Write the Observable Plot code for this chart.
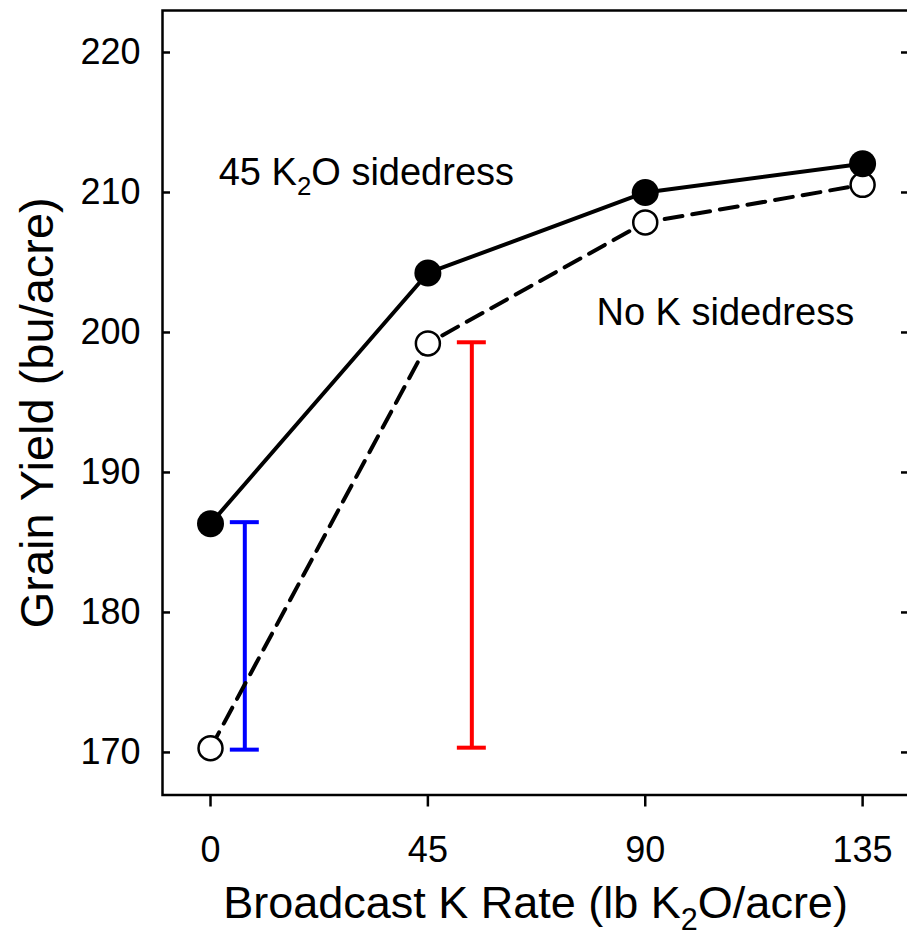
<!DOCTYPE html>
<html><head><meta charset="utf-8">
<script src="https://cdn.jsdelivr.net/npm/d3@7"></script>
<script src="https://cdn.jsdelivr.net/npm/@observablehq/plot@0.6"></script>
<style>html,body{margin:0;padding:0;background:#fff;} svg{display:block}</style>
</head><body><div id="chart"></div>
<script>
// ---- data ----
const rates = [0, 45, 90, 135];
const yieldSidedress = [186.34, 204.25, 210.0, 212.05];
const yieldNoSidedress = [170.3, 199.22, 207.86, 210.55];
const errX = [7.1, 54.1];
const errLow = [170.2, 170.34];
const errHigh = [186.45, 199.3];
const errColors = ["#0000ff", "#ff0000"];
const yTicks = [170, 180, 190, 200, 210, 220];
const xTicks = [0, 45, 90, 135];
const annotText = ["45 K2O sidedress", "No K sidedress"];
const annotX = [1.7, 79.9];
const annotY = [211.4, 201.4];
const xTitle = "Broadcast K Rate (lb K2O/acre)";
const yTitle = "Grain Yield (bu/acre)";

const solid = rates.map((r, i) => ({x: r, y: yieldSidedress[i]}));
const dashed = rates.map((r, i) => ({x: r, y: yieldNoSidedress[i]}));
const bars = errX.map((x, i) => ({x, lo: errLow[i], hi: errHigh[i], c: errColors[i]}));
const caps = bars.flatMap(b => [{x: b.x, y: b.lo, c: b.c}, {x: b.x, y: b.hi, c: b.c}]);
const capHalf = 3;
const annots = annotText.map((t, i) => ({t, x: annotX[i], y: annotY[i]}));

const font = "'Liberation Sans', Arial, Helvetica, sans-serif";

const chart = Plot.plot({
  width: 907, height: 931,
  marginLeft: 162, marginRight: -1, marginTop: 10, marginBottom: 136.5,
  x: {domain: [-9.94, 144.5]},
  y: {domain: [166.96, 223.0]},
  style: {fontFamily: font, background: "white", color: "black"},
  marks: [
    Plot.frame({stroke: "black", strokeWidth: 2.5}),
    Plot.axisY({anchor: "left", ticks: yTicks, tickSize: -8, tickPadding: 30, tickFormat: d => String(d), fontSize: 36, strokeWidth: 2.5, label: null}),
    Plot.axisY({anchor: "right", ticks: yTicks, tickSize: -8, tickFormat: () => "", strokeWidth: 2.5, label: null}),
    Plot.axisX({anchor: "bottom", ticks: xTicks, tickSize: 12, tickPadding: 29.5, tickFormat: d => String(d), fontSize: 36, strokeWidth: 2.5, label: null}),
    Plot.ruleX(bars, {x: "x", y1: "lo", y2: "hi", stroke: "c", strokeWidth: 4}),
    Plot.ruleY(caps, {y: "y", x1: d => d.x - capHalf, x2: d => d.x + capHalf, stroke: "c", strokeWidth: 4}),
    Plot.line(solid, {x: "x", y: "y", stroke: "black", strokeWidth: 4}),
    Plot.line(dashed, {x: "x", y: "y", stroke: "black", strokeWidth: 4, strokeDasharray: "18,10"}),
    Plot.dot(dashed, {x: "x", y: "y", r: 12, fill: "white", stroke: "black", strokeWidth: 2.5}),
    Plot.dot(solid, {x: "x", y: "y", r: 13.5, fill: "black"}),
    Plot.text(annots, {x: "x", y: "y", text: "t", textAnchor: "start", fontSize: 38, fill: "black"}),
    Plot.text([xTitle], {frameAnchor: "bottom", text: d => d, lineAnchor: "middle", textAnchor: "middle", dy: 109, fontSize: 45, fill: "black"}),
    Plot.text([yTitle], {frameAnchor: "left", text: d => d, rotate: -90, textAnchor: "middle", lineAnchor: "middle", dx: -125, dy: 10, fontSize: 47, fill: "black"})
  ]
});
chart.setAttribute("color", "black");
document.getElementById("chart").appendChild(chart);

// subscript "2" in K2O
chart.querySelectorAll("text").forEach(t => {
  const s = t.textContent;
  const idx = s.indexOf("K2O");
  if (idx < 0 || t.querySelector("tspan")) return;
  const fs = parseFloat(getComputedStyle(t).fontSize) || 38;
  const shift = fs * 0.25;
  t.textContent = "";
  const ns = "http://www.w3.org/2000/svg";
  const a = document.createElementNS(ns, "tspan"); a.textContent = s.slice(0, idx + 1);
  const b = document.createElementNS(ns, "tspan"); b.textContent = "2";
  b.setAttribute("dy", shift); b.setAttribute("font-size", fs * 0.68);
  const c = document.createElementNS(ns, "tspan"); c.textContent = s.slice(idx + 2);
  c.setAttribute("dy", -shift);
  t.append(a, b, c);
});
</script>
</body></html>
